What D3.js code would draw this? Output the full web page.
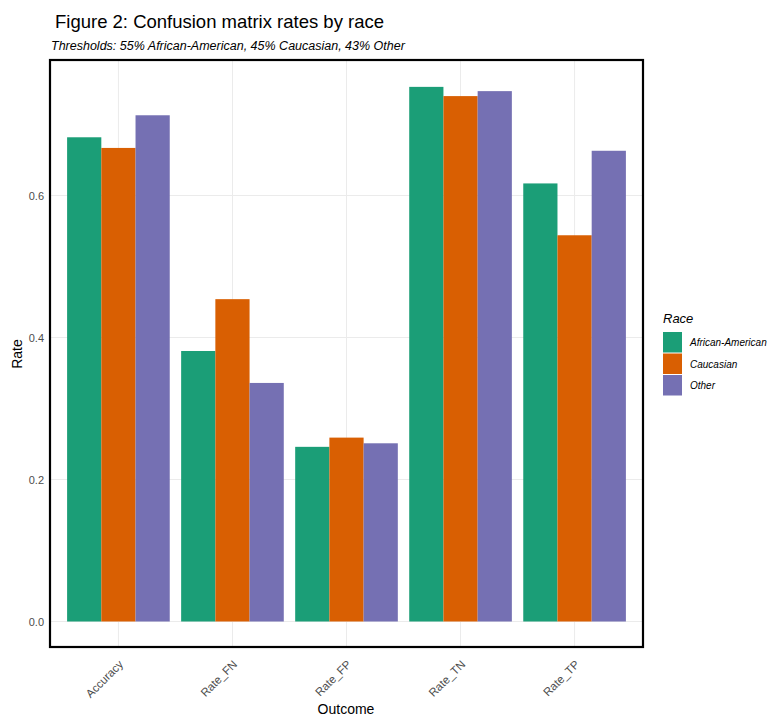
<!DOCTYPE html>
<html>
<head>
<meta charset="utf-8">
<script src="https://cdn.jsdelivr.net/npm/d3@7"></script>
<style>
  body { margin: 0; background: #fff; }
  svg { display: block; font-family: "Liberation Sans", Arial, sans-serif; }
</style>
</head>
<body>
<svg id="chart" width="767" height="717"></svg>
<script>
const outcomes = ["Accuracy", "Rate_FN", "Rate_FP", "Rate_TN", "Rate_TP"];
const races = ["African-American", "Caucasian", "Other"];
const africanAmerican = [0.682, 0.381, 0.246, 0.753, 0.617];
const caucasian = [0.667, 0.454, 0.259, 0.740, 0.544];
const other = [0.713, 0.336, 0.251, 0.747, 0.663];
const yTicks = [0.0, 0.2, 0.4, 0.6];
const colors = ["#1b9e77", "#d95f02", "#7570b3"];

(function () {
const seriesValues = [africanAmerican, caucasian, other];
const data = [];
outcomes.forEach((o, i) => races.forEach((r, j) => data.push({ outcome: o, race: r, value: seriesValues[j][i] })));

const svg = d3.select("#chart");
const pLeft = 50, pRight = 643, pTop = 60, pBottom = 647;

const x = d3.scalePoint().domain(outcomes).range([pLeft, pRight]).padding(0.6);
const step = x.step();
const groupW = step * 0.9;
const xInner = d3.scaleBand().domain(races).range([-groupW / 2, groupW / 2]).padding(0);

const y = d3.scaleLinear().domain([0, 1]).range([621.5, 621.5 - 710]);
const color = d3.scaleOrdinal().domain(races).range(colors);

// gridlines
const grid = svg.append("g");
grid.selectAll("line.h").data(yTicks).join("line").attr("class", "h")
  .attr("x1", pLeft).attr("x2", pRight)
  .attr("y1", d => y(d)).attr("y2", d => y(d))
  .attr("stroke", "#ebebeb").attr("stroke-width", 1);
grid.selectAll("line.v").data(outcomes).join("line").attr("class", "v")
  .attr("x1", d => x(d)).attr("x2", d => x(d))
  .attr("y1", pTop).attr("y2", pBottom)
  .attr("stroke", "#ebebeb").attr("stroke-width", 1);

// bars
svg.append("g").selectAll("rect").data(data).join("rect")
  .attr("x", d => x(d.outcome) + xInner(d.race))
  .attr("width", xInner.bandwidth())
  .attr("y", d => y(d.value))
  .attr("height", d => y(0) - y(d.value))
  .attr("fill", d => color(d.race));

// panel border
svg.append("rect").attr("x", pLeft).attr("y", pTop)
  .attr("width", pRight - pLeft).attr("height", pBottom - pTop)
  .attr("fill", "none").attr("stroke", "#000").attr("stroke-width", 2.2);

// y axis
const yAxis = d3.axisLeft(y).tickValues(yTicks).tickFormat(d3.format(".1f")).tickSize(0).tickPadding(6);
const yg = svg.append("g").attr("transform", `translate(${pLeft},0)`).call(yAxis);
yg.select(".domain").remove();
yg.selectAll("text").attr("fill", "#4d4d4d").attr("font-size", 11).attr("font-family", "Liberation Sans, Arial, sans-serif");

// x axis
const xAxis = d3.axisBottom(x).tickSize(0).tickPadding(0);
const xg = svg.append("g").attr("transform", `translate(0,${pBottom})`).call(xAxis);
xg.select(".domain").remove();
xg.selectAll("text")
  .attr("fill", "#4d4d4d").attr("font-size", 11.5).attr("font-family", "Liberation Sans, Arial, sans-serif")
  .attr("text-anchor", "end").attr("dy", null).attr("y", 0)
  .attr("transform", "translate(5,18) rotate(-45)");

// axis titles
svg.append("text").attr("x", 346).attr("y", 714).attr("text-anchor", "middle")
  .attr("font-size", 14).attr("fill", "#000").text("Outcome");
svg.append("text").attr("transform", "translate(22,354) rotate(-90)").attr("text-anchor", "middle")
  .attr("font-size", 14).attr("fill", "#000").text("Rate");

// title & subtitle
svg.append("text").attr("x", 55).attr("y", 28).attr("font-size", 18.5).attr("fill", "#000")
  .text("Figure 2: Confusion matrix rates by race");
svg.append("text").attr("x", 51).attr("y", 50).attr("font-size", 12.5).attr("font-style", "italic").attr("fill", "#000")
  .text("Thresholds: 55% African-American, 45% Caucasian, 43% Other");

// legend
const lg = svg.append("g");
lg.append("text").attr("x", 663).attr("y", 323).attr("font-size", 13).attr("font-style", "italic").text("Race");
races.forEach((r, i) => {
  const yy = 332 + i * 21.5;
  lg.append("rect").attr("x", 663).attr("y", yy).attr("width", 19).attr("height", 20.5).attr("fill", color(r));
  lg.append("text").attr("x", 690).attr("y", yy + 14).attr("font-size", 10).attr("font-style", "italic")
    .attr("fill", "#000").text(r);
});
})();
</script>
</body>
</html>
